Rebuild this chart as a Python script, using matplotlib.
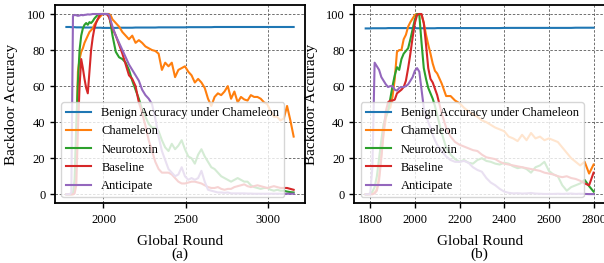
import matplotlib
matplotlib.use("Agg")
import matplotlib.pyplot as plt

plt.rcParams['font.family'] = ['Liberation Serif', 'DejaVu Serif']

# ---------------- Panel (a) data ----------------
rounds_a = list(range(1775, 2055, 10)) + list(range(2055, 3156, 20))

benign_a = [92.8, 92.8, 92.8, 92.7, 92.7, 92.7, 92.6, 92.6, 92.6, 92.6,
            92.5, 92.5, 92.5, 92.5, 92.5, 92.5, 92.4, 92.4, 92.4, 92.4,
            92.4, 92.4, 92.3, 92.3, 92.3, 92.3, 92.3, 92.3,
            92.3, 92.3, 92.4, 92.4, 92.4, 92.4, 92.4, 92.5, 92.5, 92.5,
            92.5, 92.5, 92.5, 92.5, 92.6, 92.6, 92.6, 92.6, 92.6, 92.6,
            92.6, 92.6, 92.6, 92.7, 92.7, 92.7, 92.7, 92.7, 92.7, 92.7,
            92.7, 92.8, 92.8, 92.8, 92.8, 92.8, 92.8, 92.8, 92.8, 92.8,
            92.8, 92.8, 92.8, 92.8, 92.8, 92.8, 92.8, 92.8, 92.8, 92.8,
            92.8, 92.8, 92.8, 92.8, 92.8, 92.8]

chameleon_a = [0, 0, 0, 0, 0, 2, 30, 68, 75, 79,
               81, 84, 86, 88, 90, 91, 92, 94, 95.5, 97,
               98, 99, 100, 100, 100, 100, 100, 99,
               97, 95, 93, 90, 88, 86, 88, 84, 85.5, 84,
               82, 81, 80, 79.5, 78, 69, 73, 71, 73, 65,
               69, 70, 71, 68, 66, 62, 64, 62, 59, 53,
               49, 54, 56, 55, 57, 60, 53, 57, 51, 54,
               52.6, 52, 55, 54, 54, 53, 51, 50, 46, 43,
               43, 41, 42, 49, 41, 32]

neurotoxin_a = [0, 0, 0, 0, 0.5, 8, 38, 62, 80, 88,
                92, 94, 95, 94, 95.5, 95, 96, 97.5, 98.5, 99.5,
                100, 100, 100, 100, 100, 100, 99, 94,
                88, 79, 76, 75, 73, 69, 63, 58, 53, 47,
                43, 39, 37, 37, 35, 30, 26, 24, 28, 25,
                27, 30, 25, 21, 20, 17, 22, 25, 21, 18,
                15, 14, 12, 10, 9, 8, 7, 8, 9, 8,
                7, 7, 5, 4, 3.5, 3, 3.5, 3.5, 2.5, 2,
                2.5, 2, 2, 1.5, 1.2, 1]

baseline_a = [0, 0, 0, 0, 0, 0.5, 5, 35, 60, 75,
              70, 64, 59, 56, 68, 80, 87, 92, 95, 97,
              99, 100, 100, 100, 100, 99.5, 98, 95,
              92, 88, 83, 78, 72, 66, 64, 60, 51, 45,
              38, 30, 24, 18, 14, 12, 12, 12, 11, 9,
              7, 6, 6, 6.5, 7, 7, 6.5, 6, 5, 4,
              3.5, 3.5, 4, 3, 2.5, 3, 3, 4, 4.5, 5,
              5.5, 4.5, 4, 4.5, 5, 4.5, 4, 3.5, 4, 4.5,
              4, 3.5, 3.5, 3.5, 3, 2.5]

anticipate_a = [0, 0, 0, 1, 99, 99.5, 99.3, 99, 99.2, 99.5,
                99.3, 99.5, 99.6, 99.8, 99.7, 99.8, 100, 100, 100, 100,
                100, 100, 100, 100, 100, 100, 99.5, 96,
                93, 88, 84, 80, 76, 72, 69, 66, 63, 58,
                55, 53, 50, 42, 32, 24, 19, 14, 12, 10,
                11, 15, 10, 8, 9, 8, 9, 13, 7, 2.5,
                2, 1.5, 1, 1, 0.8, 1, 0.5, 0.5, 0.5, 0.5,
                0.5, 0.4, 0.4, 0.3, 0.3, 0.3, 0.3, 0.3, 0.3, 0.3,
                0.3, 0.3, 0.3, 0.3, 0.3, 0.3]

# ---------------- Panel (b) data ----------------
rounds_b = list(range(1780, 2101, 10)) + list(range(2120, 2801, 20))

benign_b = [92.0, 92.0, 92.0, 92.1, 92.1, 92.1, 92.1, 92.1, 92.1, 92.1,
            92.2, 92.2, 92.2, 92.2, 92.2, 92.2, 92.2, 92.2, 92.2, 92.2,
            92.2, 92.2, 92.2, 92.1, 92.1, 92.1, 92.1, 92.1, 92.1, 92.1,
            92.1, 92.1, 92.2,
            92.2, 92.2, 92.2, 92.2, 92.2, 92.2, 92.2, 92.2, 92.2, 92.2,
            92.2, 92.2, 92.2, 92.2, 92.3, 92.3, 92.3, 92.3, 92.3, 92.3,
            92.3, 92.3, 92.3, 92.3, 92.3, 92.3, 92.3, 92.3, 92.3, 92.3,
            92.4, 92.4, 92.4, 92.4, 92.4]

chameleon_b = [0, 0, 0, 0.5, 1, 3, 10, 22, 33, 42,
               47, 48, 54, 64, 79, 80, 80, 86, 88.5, 93,
               95.5, 97.5, 99.5, 100, 100, 99.5, 95, 88.5, 83, 78,
               72.5, 68.5, 67,
               61.5, 54.5, 54.5, 52, 50.5, 48, 46, 44.5, 43, 41,
               40, 38.5, 37, 36, 35, 32, 31, 29.5, 33, 30,
               34, 31, 32, 30, 31, 30, 29, 26, 23, 20,
               18, 16, 18, 11.5, 16.5]

neurotoxin_b = [0, 0, 0.5, 1.5, 4, 10, 20, 30, 39, 43,
                46, 53, 60, 66, 70.5, 69, 75, 78, 79.5, 81,
                86, 91.5, 97, 100, 99.5, 84, 70, 64, 59, 56,
                53, 49, 44,
                34, 26, 22, 19.5, 18, 19, 17.5, 17, 19, 20,
                18.5, 18, 17, 16.5, 17.5, 17, 15.5, 14.5, 15, 14,
                12, 15, 16, 18, 13, 11, 10, 5, 2, 4,
                5, 6, 8, 4.5, 1.5]

baseline_b = [0, 0, 0, 0, 0.5, 2, 8, 20, 35, 46,
              51, 52, 52, 52.5, 56, 57, 58, 59.5, 63, 70,
              78, 87, 95, 99.5, 100, 100, 95, 83, 70, 64,
              62, 58.5, 55,
              45, 37, 32, 29, 27.5, 26.5, 25.5, 24.5, 24, 22,
              20.5, 20, 19.5, 18, 17, 16.5, 16, 15.5, 15, 14.5,
              14, 13.5, 13, 12, 11.5, 11, 10, 9.5, 10, 9,
              8.5, 7.5, 6, 5, 12]

anticipate_b = [0, 0, 0, 15, 73, 71, 69, 65, 63, 61,
                59.5, 60, 60, 58, 57.5, 59, 59.5, 59.5, 60, 61,
                63, 65, 68.5, 70, 68, 58, 48, 44, 40, 37,
                33, 30, 27.5,
                24, 21, 19, 18, 18, 18.5, 17.5, 15, 13.5, 12.5,
                9, 6.5, 5, 3, 1.5, 0.8, 0.5, 0.6, 0.4, 0.5,
                0.7, 0.4, 0.3, 0.2, 0.2, 0.2, 0.3, 0.2, 0.3, 0.4,
                0.2, 0.3, 0.2, 0.1, 0.1]

labels = ['Benign Accuracy under Chameleon', 'Chameleon', 'Neurotoxin',
          'Baseline', 'Anticipate']
colors = ['#1f77b4', '#ff7f0e', '#2ca02c', '#d62728', '#9467bd']
xticks_a = [2000, 2500, 3000]
xticks_b = [1800, 2000, 2200, 2400, 2600, 2800]
yticks = [0, 20, 40, 60, 80, 100]

fig = plt.figure(figsize=(6.04, 2.63), dpi=100)
ax_a = fig.add_axes([0.0911, 0.227, 0.4139, 0.754])
ax_b = fig.add_axes([0.5866, 0.227, 0.4150, 0.754])

panels = [
    (ax_a, rounds_a, [benign_a, chameleon_a, neurotoxin_a, baseline_a, anticipate_a], xticks_a, '(a)'),
    (ax_b, rounds_b, [benign_b, chameleon_b, neurotoxin_b, baseline_b, anticipate_b], xticks_b, '(b)'),
]

for ax, xs, series, xt, tag in panels:
    for ys, lab, c in zip(series, labels, colors):
        ax.plot(xs, ys, color=c, lw=1.5, label=lab)
    ax.set_xticks(xt)
    ax.set_yticks(yticks)
    ax.grid(True, linestyle=(0, (3, 2)), color='0.35', linewidth=0.6)
    ax.tick_params(labelsize=9, length=3.5, width=1.0)
    ax.tick_params(axis='x', pad=4.5)
    for s in ax.spines.values():
        s.set_linewidth(1.3)
    ax.set_xlabel('Global Round\n' + tag, fontsize=11, linespacing=1.0,
                  labelpad=6)
    ax.set_ylabel('Backdoor Accuracy', fontsize=11, labelpad=6)
    ax.legend(loc='lower left', fontsize=9, labelspacing=0.5,
              borderpad=0.4, handlelength=2.0)

fig.savefig('out.png', dpi=100)
